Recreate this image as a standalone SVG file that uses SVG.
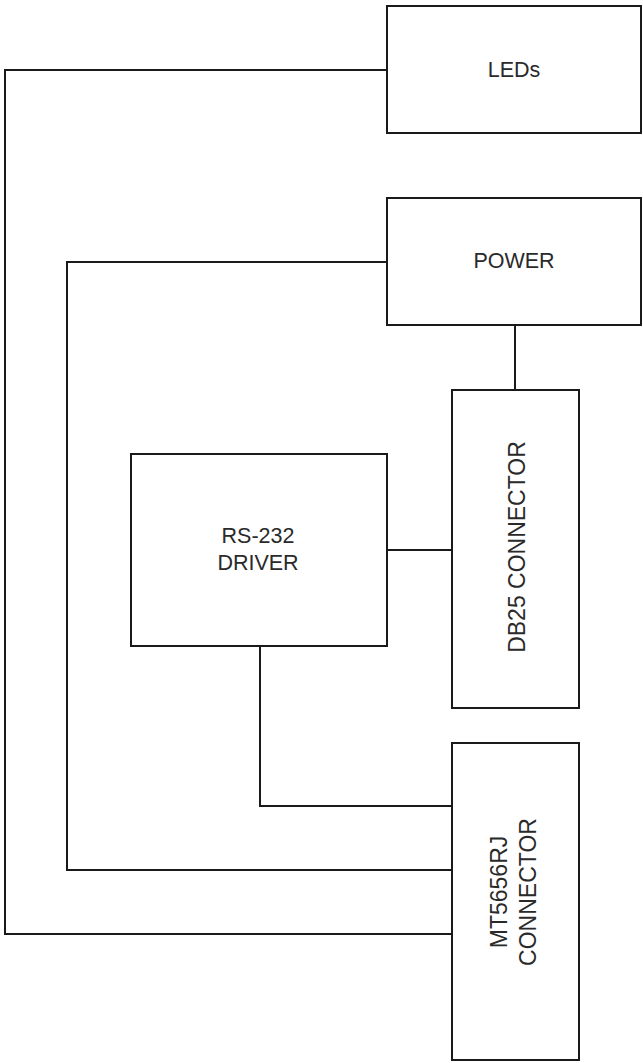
<svg xmlns="http://www.w3.org/2000/svg" width="643" height="1063" viewBox="0 0 643 1063">
<style>
.box{fill:#fff;stroke:#1a1a1a;stroke-width:2}
.wire{fill:none;stroke:#1a1a1a;stroke-width:2}
.lbl{font-family:"Liberation Sans",Arial,sans-serif;font-size:21.5px;fill:#2a2a2a;text-anchor:middle}
.vlbl{font-size:23px}
</style>
<rect width="643" height="1063" fill="#fff"/>
<g id="connectors">
<polyline class="wire" points="387,70 5,70 5,934 452,934"/>
<polyline class="wire" points="387,262 67,262 67,870 452,870"/>
<line class="wire" x1="515" y1="325" x2="515" y2="390"/>
<line class="wire" x1="387" y1="550" x2="452" y2="550"/>
<polyline class="wire" points="260,646 260,806 452,806"/>
</g>
<g id="leds">
<rect class="box" x="387" y="6" width="254" height="127"/>
<text class="lbl" x="514" y="77">LEDs</text>
</g>
<g id="power">
<rect class="box" x="387" y="198" width="254" height="127"/>
<text class="lbl" x="514" y="268">POWER</text>
</g>
<g id="db25">
<rect class="box" x="452" y="390" width="127" height="318"/>
<text class="lbl vlbl" transform="translate(525,547) rotate(-90)">DB25 CONNECTOR</text>
</g>
<g id="rs232">
<rect class="box" x="131" y="454" width="256" height="192"/>
<text class="lbl" x="258" y="543">RS-232</text>
<text class="lbl" x="258" y="570">DRIVER</text>
</g>
<g id="mt5656rj">
<rect class="box" x="452" y="743" width="127" height="317"/>
<text class="lbl vlbl" transform="translate(507,892) rotate(-90)"><tspan x="0" y="0">MT5656RJ</tspan><tspan x="0" y="28.5">CONNECTOR</tspan></text>
</g>
</svg>
